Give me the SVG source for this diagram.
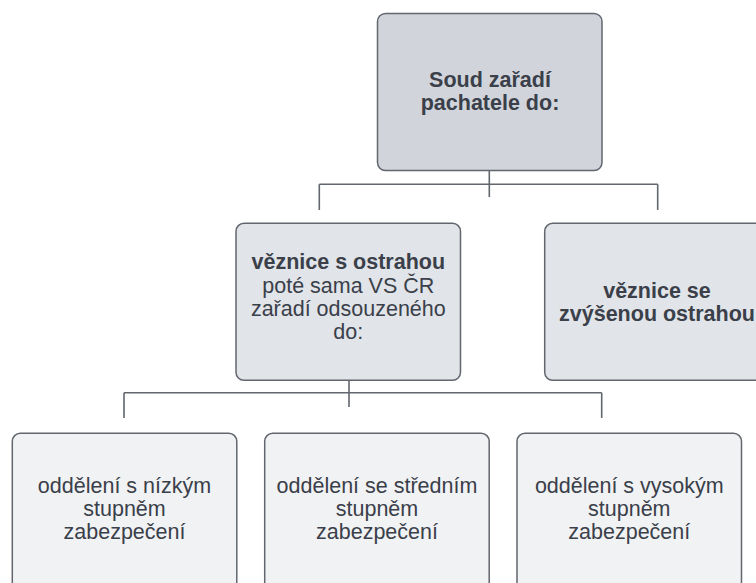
<svg xmlns="http://www.w3.org/2000/svg" width="756" height="583" viewBox="0 0 756 583">
<style>
.box{stroke:#62666d;stroke-width:1.5}
.l1{fill:#d1d5db}
.l2{fill:#e1e4e8}
.l3{fill:#f1f2f4}
text{font-family:"Liberation Sans",Arial,sans-serif;font-size:21.5px;fill:#3a3f4a;text-anchor:middle}
.b{font-weight:bold}
#connectors path{fill:none;stroke:#62666d;stroke-width:1.6}
</style>
<rect width="756" height="583" fill="#ffffff"/>
<g id="connectors">
<path d="M489.3 171V197M319.3 184.3H657.7M319.3 184.3V210M657.7 184.3V210"/>
<path d="M349 380V407M124 392.7H601.7M124 392.7V418M601.7 392.7V418"/>
</g>
<g id="n1">
<rect class="box l1" x="377.5" y="13.5" width="224.5" height="157" rx="8"/>
<text class="b" x="490" y="87">Soud zařadí</text>
<text class="b" x="490" y="110.3">pachatele do:</text>
</g>
<g id="n2">
<rect class="box l2" x="236" y="223.3" width="224.5" height="157" rx="8"/>
<text class="b" x="348.3" y="269.3">věznice s ostrahou</text>
<text x="348.3" y="292.6">poté sama VS ČR</text>
<text x="348.3" y="315.9">zařadí odsouzeného</text>
<text x="348.3" y="339.2">do:</text>
</g>
<g id="n3">
<rect class="box l2" x="544.7" y="223.3" width="224.5" height="157" rx="8"/>
<text class="b" x="657" y="298">věznice se</text>
<text class="b" x="657" y="321.3">zvýšenou ostrahou</text>
</g>
<g id="n4">
<rect class="box l3" x="12.3" y="433.3" width="224.5" height="157" rx="8"/>
<text x="124.5" y="492.5">oddělení s nízkým</text>
<text x="124.5" y="515.8">stupněm</text>
<text x="124.5" y="539.1">zabezpečení</text>
</g>
<g id="n5">
<rect class="box l3" x="264.7" y="433.3" width="224.5" height="157" rx="8"/>
<text x="377" y="492.5">oddělení se středním</text>
<text x="377" y="515.8">stupněm</text>
<text x="377" y="539.1">zabezpečení</text>
</g>
<g id="n6">
<rect class="box l3" x="517" y="433.3" width="224.5" height="157" rx="8"/>
<text x="629.3" y="492.5">oddělení s vysokým</text>
<text x="629.3" y="515.8">stupněm</text>
<text x="629.3" y="539.1">zabezpečení</text>
</g>
</svg>
